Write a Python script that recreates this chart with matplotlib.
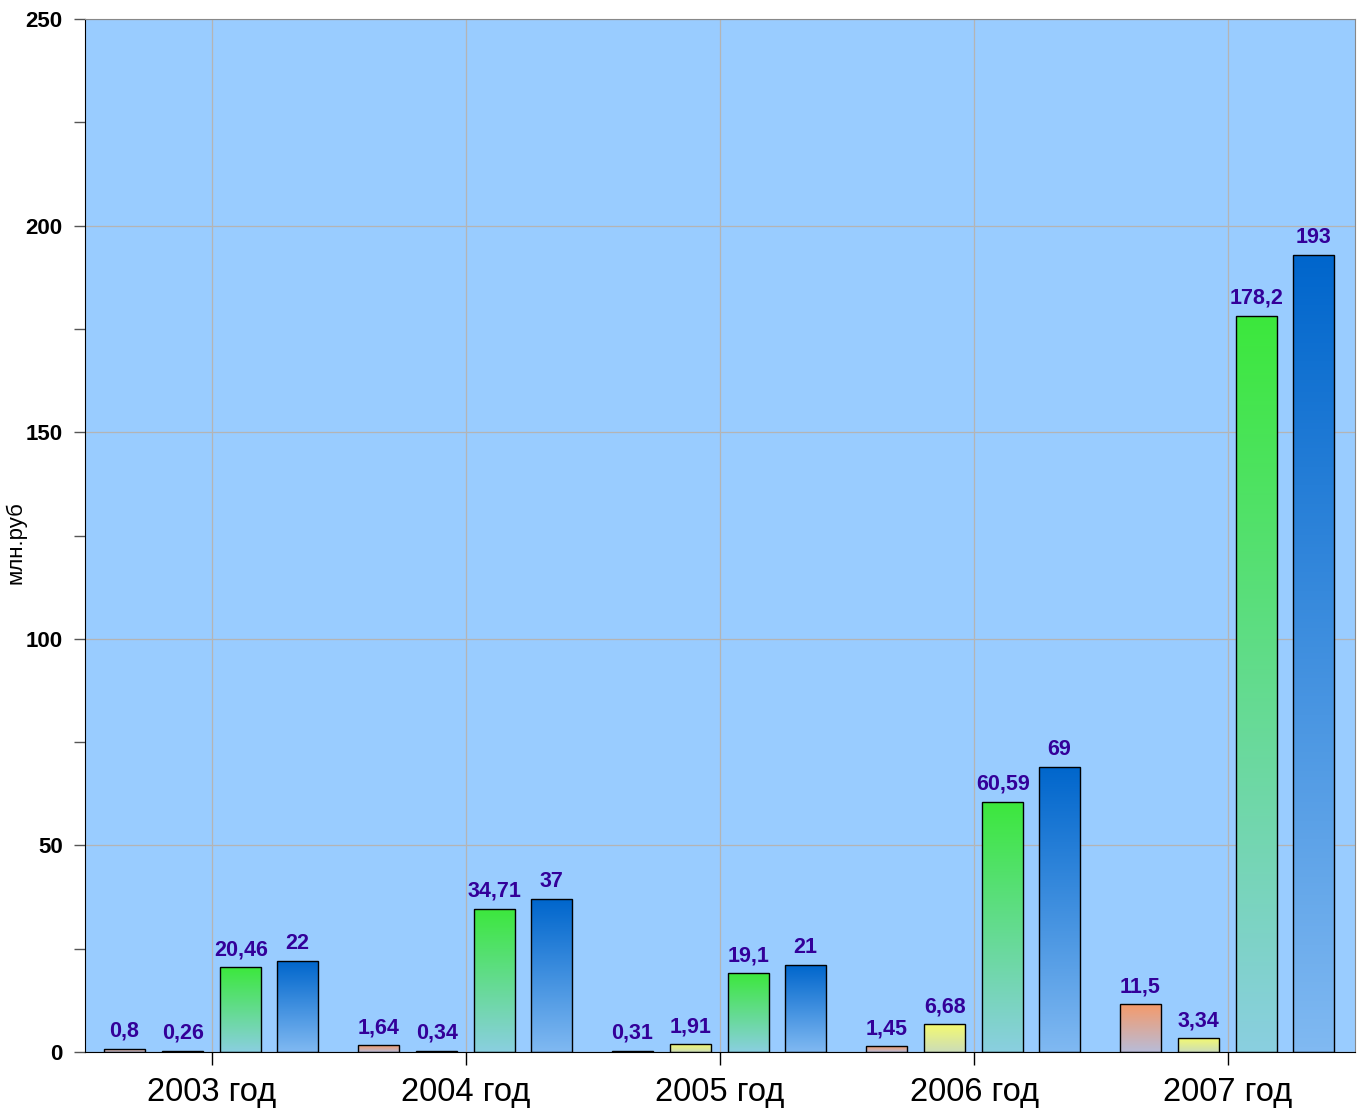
import numpy as np
import matplotlib
matplotlib.use("Agg")
import matplotlib.pyplot as plt
from matplotlib.colors import LinearSegmentedColormap
from matplotlib.ticker import MultipleLocator

plt.rcParams['font.family'] = ['Liberation Sans', 'DejaVu Sans']

categories = ["2003 год", "2004 год", "2005 год", "2006 год", "2007 год"]
series_a = [0.8, 1.64, 0.31, 1.45, 11.5]      # orange
series_b = [0.26, 0.34, 1.91, 6.68, 3.34]     # yellow
series_c = [20.46, 34.71, 19.1, 60.59, 178.2]  # green
series_d = [22, 37, 21, 69, 193]              # blue
y_label = "млн.руб"

series = [series_a, series_b, series_c, series_d]
grads = [("#B8BCD8", "#F59A6A"),
         ("#CCDDB8", "#F4FA70"),
         ("#8ACFE0", "#3CE83C"),
         ("#80B9F2", "#0066CC")]
offsets = [-0.345, -0.115, 0.113, 0.337]
width = 0.162

fig = plt.figure(figsize=(13.6, 11.08), dpi=100)
ax = fig.add_axes([85/1360, 1-1052/1108, 1270/1360, 1033/1108])
ax.set_facecolor("#99CCFF")
x = np.arange(len(categories))

for vals, (c0, c1), off in zip(series, grads, offsets):
    cmap = LinearSegmentedColormap.from_list("g", [c0, c1])
    bars = ax.bar(x + off, vals, width, color="none", edgecolor="black", linewidth=1.0, zorder=3)
    for b, v in zip(bars, vals):
        x0 = b.get_x()
        im = ax.imshow(np.linspace(0, 1, 256).reshape(-1, 1), cmap=cmap, origin="lower",
                       extent=[x0, x0 + width, 0, v], aspect="auto", zorder=2,
                       interpolation="bilinear")
        im.set_clip_path(b)
        lbl = ("%g" % v).replace(".", ",")
        ax.annotate(lbl, (x0 + width/2, v), xytext=(0, 5), textcoords="offset points",
                    ha="center", va="bottom", fontsize=15.5, fontweight="bold",
                    color="#330099", zorder=5)
ax.set_xlim(-0.5, len(categories)-0.5)
ax.set_ylim(0, 250)

ax.set_xticks(x)
ax.set_xticklabels(categories, fontsize=23.5)
ax.yaxis.set_major_locator(MultipleLocator(50))
ax.yaxis.set_minor_locator(MultipleLocator(25))
for t in ax.get_yticklabels():
    t.set_fontweight("bold")
    t.set_fontsize(16)
ax.tick_params(axis='y', which='major', length=8, width=1, color="#555555", pad=8)
ax.tick_params(axis='y', which='minor', length=8, width=1, color="#555555")
ax.tick_params(axis='x', length=9, width=1, color="black", pad=9)
ax.grid(True, which='major', color="#B4B4B4", linewidth=0.9, zorder=0)
ax.set_axisbelow(True)
for s in ["top", "right"]:
    ax.spines[s].set_color("#888888")
ax.spines["left"].set_color("black")
ax.spines["bottom"].set_color("black")
ax.set_ylabel(y_label, fontsize=16)
ax.yaxis.set_label_coords(-0.0457, 0.493)

fig.savefig("out.png", dpi=100)
